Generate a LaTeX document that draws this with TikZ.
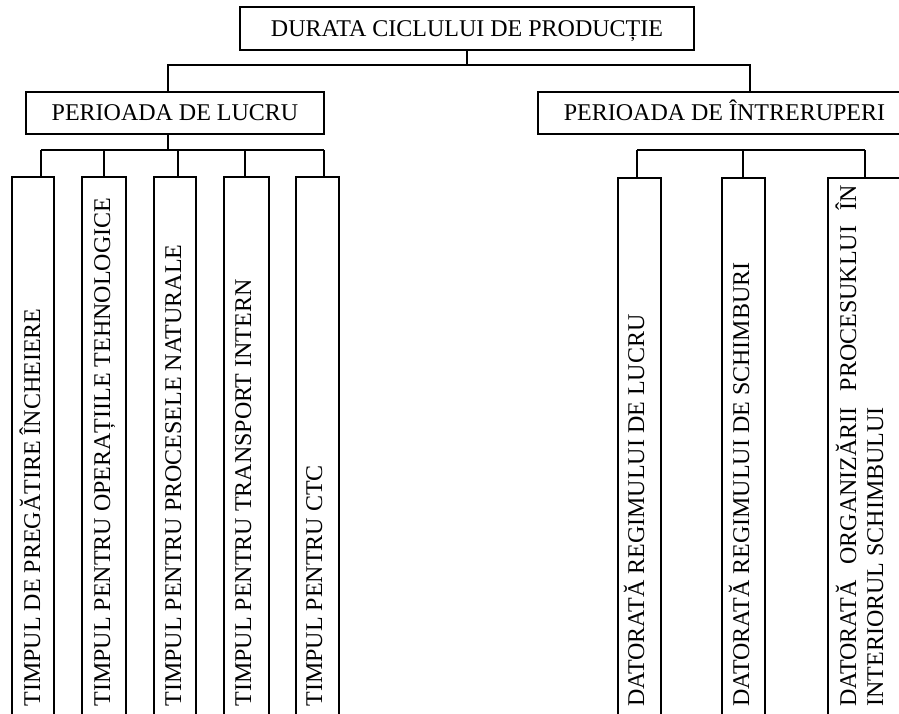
\documentclass[tikz,border=0pt]{standalone}
\usepackage{fontspec}
\setmainfont{Liberation Serif}
\begin{document}
\begin{tikzpicture}[x=0.5pt,y=-0.5pt,
  every node/.style={font=\fontsize{12}{13.8}\selectfont},
  hbox/.style={draw, line width=0.9pt, inner sep=0pt, text height=7.9pt, text depth=0pt},
  vbox/.style={draw, line width=0.9pt, inner sep=0pt},
  vtext/.style={rotate=90, anchor=base west, inner sep=0pt},
  conn/.style={line width=0.9pt}]
\useasboundingbox (0,0) rectangle (899,713);
\clip (0,0) rectangle (899,713);

% main boxes
\node[hbox, minimum width=227pt, minimum height=21.5pt] (top) at (467,28.5) {DURATA CICLULUI DE PRODUCȚIE};
\node[hbox, minimum width=149pt, minimum height=21pt] (pl) at (175,113) {PERIOADA DE LUCRU};
\node[hbox, minimum width=186.5pt, minimum height=21pt] (pi) at (724.5,113) {PERIOADA DE ÎNTRERUPERI};

% vertical boxes
\node[vbox, minimum width=21pt,   minimum height=271.5pt] (l1) at (33,448.5) {};
\node[vbox, minimum width=22pt,   minimum height=271.5pt] (l2) at (104,448.5) {};
\node[vbox, minimum width=21pt,   minimum height=271.5pt] (l3) at (175,448.5) {};
\node[vbox, minimum width=22.5pt, minimum height=271.5pt] (l4) at (246.5,448.5) {};
\node[vbox, minimum width=21.5pt, minimum height=271.5pt] (l5) at (317.5,448.5) {};
\node[vbox, minimum width=21.5pt, minimum height=271pt] (r1) at (639.5,449) {};
\node[vbox, minimum width=21.5pt, minimum height=271pt] (r2) at (743.5,449) {};
\node[vbox, minimum width=41pt,   minimum height=271pt] (r3) at (869,449) {};

% vertical texts
\node[vtext] (tl1) at (40,707) {TIMPUL DE PREGĂTIRE ÎNCHEIERE};
\node[vtext] (tl2) at (110,707) {TIMPUL PENTRU OPERAȚIILE TEHNOLOGICE};
\node[vtext] (tl3) at (181,707) {TIMPUL PENTRU PROCESELE NATURALE};
\node[vtext] (tl4) at (251,707) {TIMPUL PENTRU TRANSPORT INTERN};
\node[vtext] (tl5) at (322,707) {TIMPUL PENTRU CTC};
\node[vtext] (tr1) at (644,707) {DATORATĂ REGIMULUI DE LUCRU};
\node[vtext] (tr2) at (749,707) {DATORATĂ REGIMULUI DE SCHIMBURI};
\node[vtext] (tr3a) at (856,707) {\makebox[261pt][s]{DATORATĂ\hfill ORGANIZĂRII\hfill PROCESUKLUI\hfill ÎN}};
\node[vtext] (tr3b) at (883,707) {INTERIORUL SCHIMBULUI};

% junction coordinates
\coordinate (jtL) at (168,65);
\coordinate (jtR) at (750,65);
\coordinate (jl)  at (168,150);
\coordinate (jlA) at (41,150);
\coordinate (jlB) at (104,150);
\coordinate (jlC) at (178,150);
\coordinate (jlD) at (245,150);
\coordinate (jlE) at (324,150);
\coordinate (jrA) at (637,150);
\coordinate (jrB) at (743,150);
\coordinate (jrC) at (865,150);

% connectors
\draw[conn] (top.south) -- (top.south |- jtL);
\draw[conn] (pl.north -| jtL) -- (jtL) -- (jtR) -- (pi.north -| jtR);
\draw[conn] (pl.south -| jl) -- (jl);
\draw[conn] (jlA) -- (jlE);
\draw[conn] (jlA) -- (l1.north -| jlA);
\draw[conn] (jlB) -- (l2.north -| jlB);
\draw[conn] (jlC) -- (l3.north -| jlC);
\draw[conn] (jlD) -- (l4.north -| jlD);
\draw[conn] (jlE) -- (l5.north -| jlE);
\draw[conn] (jrA) -- (jrC);
\draw[conn] (jrA) -- (r1.north -| jrA);
\draw[conn] (jrB) -- (r2.north -| jrB);
\draw[conn] (jrC) -- (r3.north -| jrC);
\end{tikzpicture}
\end{document}
